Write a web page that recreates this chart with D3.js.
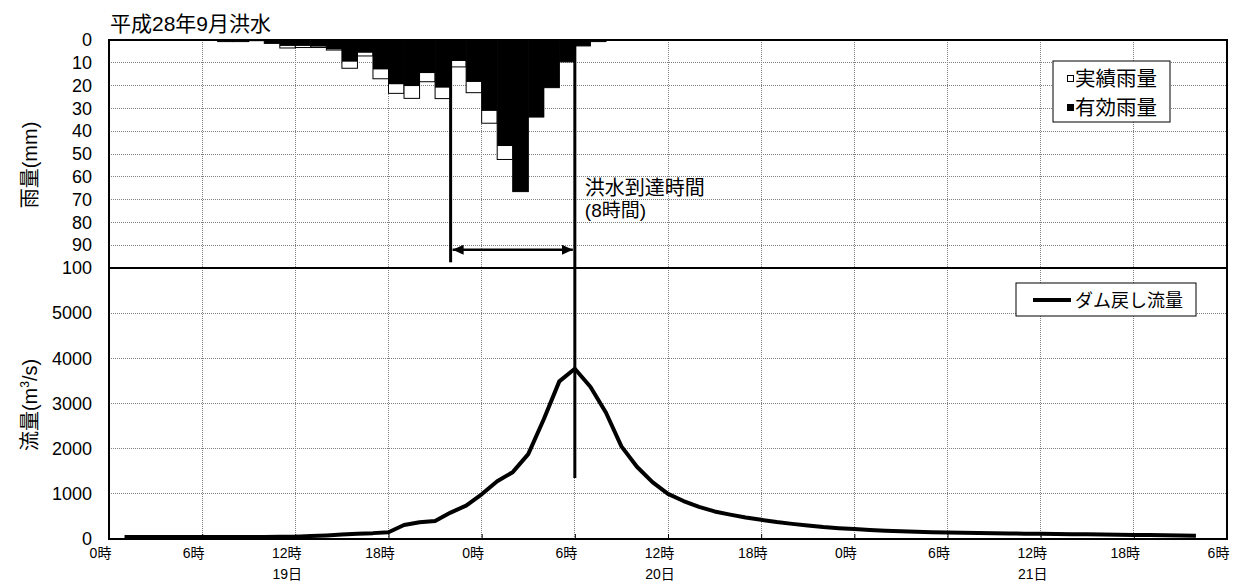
<!DOCTYPE html>
<html>
<head>
<meta charset="utf-8">
<script src="https://cdn.jsdelivr.net/npm/d3@7"></script>
<style>
  body { margin: 0; background: #fff; }
  text { font-family: "Liberation Sans", "Noto Sans CJK JP", sans-serif; fill: #000; }
</style>
</head>
<body>
<svg id="chart" width="1234" height="581"></svg>
<script>
// hourly rainfall (bar i covers hour rainHours[i] .. +1, hours counted from 19th 0時)
var rainHours = [6, 7, 8, 9, 10, 11, 12, 13, 14, 15, 16, 17, 18, 19, 20, 21, 22, 23, 24, 25, 26, 27, 28, 29, 30, 31]
var actualRain = [0, 0.7, 0.7, 0.3, 1.5, 3.5, 3.3, 3.3, 4.4, 12.4, 7.0, 17.0, 23.4, 25.6, 18.3, 25.7, 11.8, 23.1, 36.5, 52.4, 66.5, 33.8, 20.9, 9.6, 2.6, 0.7]
var effectiveRain = [0, 0.7, 0.7, 0.3, 1.4, 2.6, 2.6, 2.9, 4.1, 9.5, 5.6, 12.9, 19.4, 20.2, 14.5, 20.9, 9.2, 18.4, 31.1, 46.5, 66.5, 33.8, 20.9, 9.6, 2.6, 0.7]

// dam return flow, hourly from hour 1 to hour 70
var flowStart = 1
var damFlow = [45, 45, 45, 45, 45, 45, 45, 45, 45, 45,
  48, 52, 65, 80, 100, 118, 130, 150, 310, 370,
  400, 585, 740, 990, 1280, 1480, 1880, 2650, 3490, 3770,
  3370, 2800, 2050, 1600, 1260, 1000, 840, 710, 610, 540,
  475, 425, 375, 335, 300, 265, 240, 220, 200, 185,
  172, 162, 152, 145, 138, 132, 127, 122, 118, 115,
  111, 107, 103, 99, 95, 90, 86, 82, 78, 74]

var rainTicks = [0, 10, 20, 30, 40, 50, 60, 70, 80, 90, 100]
var flowTicks = [0, 1000, 2000, 3000, 4000, 5000]
var xTickHours = [0, 6, 12, 18, 24, 30, 36, 42, 48, 54, 60, 66, 72]
var xTickLabels = ["0時", "6時", "12時", "18時", "0時", "6時", "12時", "18時", "0時", "6時", "12時", "18時", "6時"]
var dayHours = [12, 36, 60]
var dayLabels = ["19日", "20日", "21日"]

var arrivalStart = 22, arrivalEnd = 30

;(function () {
  var mLeft = 109, mRight = 1227, mTop = 40, mMid = 268, mBottom = 539

  var x = d3.scaleLinear().domain([0, 72]).range([mLeft, mRight])
  var yRain = d3.scaleLinear().domain([0, 100]).range([mTop, mMid])
  var yFlow = d3.scaleLinear().domain([0, 6000]).range([mBottom, mMid])

  var svg = d3.select("#chart")

  // grid
  var grid = svg.append("g")
    .attr("stroke", "#808080")
    .attr("stroke-width", 1)
    .attr("stroke-dasharray", "1,1")
    .attr("shape-rendering", "crispEdges")

  grid.selectAll(".grain")
    .data(rainTicks.slice(1, -1))
    .enter().append("line")
    .attr("x1", mLeft).attr("x2", mRight)
    .attr("y1", function (d) { return yRain(d) })
    .attr("y2", function (d) { return yRain(d) })

  grid.selectAll(".gflow")
    .data(flowTicks.slice(1))
    .enter().append("line")
    .attr("x1", mLeft).attr("x2", mRight)
    .attr("y1", function (d) { return yFlow(d) })
    .attr("y2", function (d) { return yFlow(d) })

  grid.selectAll(".gx")
    .data(xTickHours.slice(1, -1))
    .enter().append("line")
    .attr("x1", function (d) { return x(d) })
    .attr("x2", function (d) { return x(d) })
    .attr("y1", mTop).attr("y2", mBottom)

  // rain bars: actual (white, outlined) then effective (black) on top
  var barW = x(1) - x(0)
  svg.append("g").selectAll("rect")
    .data(rainHours.filter(function (d, i) { return actualRain[i] > 0 }))
    .enter().append("rect")
    .attr("x", function (d) { return x(d) })
    .attr("y", yRain(0))
    .attr("width", barW)
    .attr("height", function (d) { return yRain(actualRain[rainHours.indexOf(d)]) - yRain(0) })
    .attr("fill", "#fff")
    .attr("stroke", "#000")
    .attr("stroke-width", 1)

  svg.append("g").selectAll("rect")
    .data(rainHours)
    .enter().append("rect")
    .attr("x", function (d) { return x(d) })
    .attr("y", yRain(0))
    .attr("width", barW + 0.3)
    .attr("height", function (d, i) { return yRain(effectiveRain[i]) - yRain(0) })
    .attr("fill", "#000")

  // flow line
  var line = d3.line()
    .x(function (d, i) { return x(flowStart + i) })
    .y(function (d) { return yFlow(d) })

  svg.append("path")
    .datum(damFlow)
    .attr("d", line)
    .attr("fill", "none")
    .attr("stroke", "#000")
    .attr("stroke-width", 4)
    .attr("stroke-linejoin", "round")

  // frame
  svg.append("rect")
    .attr("x", mLeft).attr("y", mTop)
    .attr("width", mRight - mLeft).attr("height", mBottom - mTop)
    .attr("fill", "none").attr("stroke", "#000").attr("stroke-width", 2)
  svg.append("line")
    .attr("x1", mLeft).attr("x2", mRight)
    .attr("y1", mMid).attr("y2", mMid)
    .attr("stroke", "#000").attr("stroke-width", 2)

  // axes
  var rainAxis = svg.append("g")
    .attr("transform", "translate(" + mLeft + ",0)")
    .call(d3.axisLeft(yRain).tickValues(rainTicks).tickFormat(d3.format("d")).tickSize(0).tickPadding(17))
  rainAxis.select(".domain").remove()
  rainAxis.selectAll("text").attr("font-size", 18)

  var flowAxis = svg.append("g")
    .attr("transform", "translate(" + mLeft + ",0)")
    .call(d3.axisLeft(yFlow).tickValues(flowTicks).tickFormat(d3.format("d")).tickSize(0).tickPadding(17))
  flowAxis.select(".domain").remove()
  flowAxis.selectAll("text").attr("font-size", 18)

  var xAxis = svg.append("g")
    .attr("transform", "translate(0," + mBottom + ")")
    .call(d3.axisBottom(x).tickValues(xTickHours)
      .tickFormat(function (d, i) { return xTickLabels[i] })
      .tickSizeInner(-5).tickSizeOuter(0).tickPadding(9))
  xAxis.select(".domain").remove()
  xAxis.selectAll("line").attr("stroke", "#000")
  xAxis.selectAll("text").attr("font-size", 14).attr("dx", -9)

  svg.append("g").selectAll("text")
    .data(dayHours)
    .enter().append("text")
    .attr("x", function (d) { return x(d) - 8 })
    .attr("y", 579)
    .attr("text-anchor", "middle")
    .attr("font-size", 14)
    .text(function (d, i) { return dayLabels[i] })

  // axis titles
  svg.append("text")
    .attr("transform", "translate(30,165) rotate(-90)")
    .attr("text-anchor", "middle")
    .attr("dy", "0.35em")
    .attr("font-size", 20)
    .text("雨量(mm)")

  var ft = svg.append("text")
    .attr("transform", "translate(30,405) rotate(-90)")
    .attr("text-anchor", "middle")
    .attr("dy", "0.35em")
    .attr("font-size", 20)
  ft.append("tspan").text("流量(m")
  ft.append("tspan").attr("font-size", 12).attr("dy", "-0.7em").text("3")
  ft.append("tspan").attr("dy", "0.42em").text("/s)")

  // title
  svg.append("text")
    .attr("x", 110).attr("y", 31)
    .attr("font-size", 21)
    .text("平成28年9月洪水")

  // flood arrival lines and arrow
  svg.append("line")
    .attr("x1", x(arrivalStart)).attr("x2", x(arrivalStart))
    .attr("y1", mTop).attr("y2", yRain(97.5))
    .attr("stroke", "#000").attr("stroke-width", 3)
  svg.append("line")
    .attr("x1", x(arrivalEnd)).attr("x2", x(arrivalEnd))
    .attr("y1", mTop).attr("y2", yFlow(1350))
    .attr("stroke", "#000").attr("stroke-width", 3)

  var defs = svg.append("defs")
  defs.append("marker")
    .attr("id", "arrow")
    .attr("markerUnits", "userSpaceOnUse")
    .attr("markerWidth", 12).attr("markerHeight", 10)
    .attr("refX", 11).attr("refY", 5)
    .attr("orient", "auto-start-reverse")
    .append("path")
    .attr("d", "M0,0 L11,5 L0,10 Z")
    .attr("fill", "#000")

  svg.append("line")
    .attr("x1", x(arrivalStart) + 2).attr("x2", x(arrivalEnd) - 2)
    .attr("y1", yRain(92)).attr("y2", yRain(92))
    .attr("stroke", "#000").attr("stroke-width", 2.5)
    .attr("marker-start", "url(#arrow)")
    .attr("marker-end", "url(#arrow)")

  svg.append("text")
    .attr("x", x(arrivalEnd) + 10).attr("y", 195)
    .attr("font-size", 20)
    .text("洪水到達時間")
  svg.append("text")
    .attr("x", x(arrivalEnd) + 10).attr("y", 217)
    .attr("font-size", 19)
    .text("(8時間)")

  // rain legend
  var lg1 = svg.append("g")
  lg1.append("rect")
    .attr("x", 1053).attr("y", 61).attr("width", 117).attr("height", 61)
    .attr("fill", "#fff").attr("stroke", "#000").attr("stroke-width", 1)
  lg1.append("rect")
    .attr("x", 1067.5).attr("y", 75.5).attr("width", 6).attr("height", 6)
    .attr("fill", "#fff").attr("stroke", "#000").attr("stroke-width", 1)
  lg1.append("rect")
    .attr("x", 1067).attr("y", 104).attr("width", 7).attr("height", 7)
    .attr("fill", "#000")
  lg1.append("text").attr("x", 1075).attr("y", 86).attr("font-size", 20.5).text("実績雨量")
  lg1.append("text").attr("x", 1075).attr("y", 115).attr("font-size", 20.5).text("有効雨量")

  // flow legend
  var lg2 = svg.append("g")
  lg2.append("rect")
    .attr("x", 1016).attr("y", 283).attr("width", 180).attr("height", 33)
    .attr("fill", "#fff").attr("stroke", "#000").attr("stroke-width", 1)
  lg2.append("line")
    .attr("x1", 1033).attr("x2", 1071).attr("y1", 300).attr("y2", 300)
    .attr("stroke", "#000").attr("stroke-width", 4)
  lg2.append("text").attr("x", 1075).attr("y", 307).attr("font-size", 18).text("ダム戻し流量")
})()
</script>
</body>
</html>
